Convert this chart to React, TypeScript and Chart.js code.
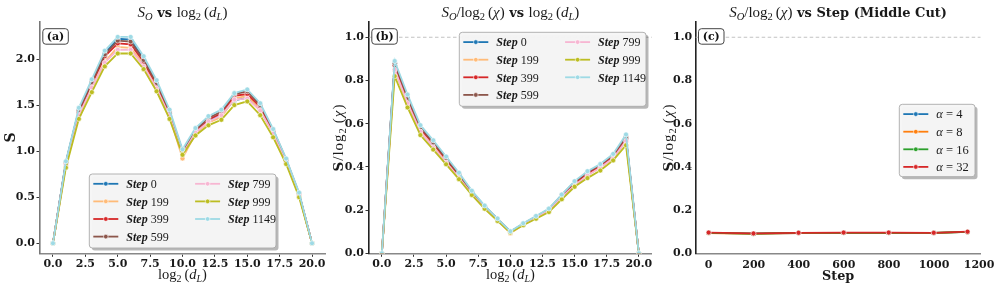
import React, { useEffect, useRef } from "react";
import { Chart, registerables } from "chart.js";
Chart.register(...registerables);

// ---------- DATA ----------
const dL = [0, 1, 2, 3, 4, 5, 6, 7, 8, 9, 10, 11, 12, 13, 14, 15, 16, 17, 18, 19, 20];
const stepLabels = ["0", "199", "399", "599", "799", "999", "1149"];
const stepColors = ["#1f77b4", "#ffbb78", "#d62728", "#8c564b", "#f7b6d2", "#bcbd22", "#9edae5"];

// Panel (a): S_O vs log2(d_L)
const entropyStep0 = [0, 0.88, 1.45, 1.76, 2.06, 2.22, 2.21, 2.0, 1.74, 1.42, 1.0, 1.2, 1.33, 1.4, 1.55, 1.58, 1.45, 1.2, 0.89, 0.53, 0];
const entropyStep199 = [0, 0.85, 1.39, 1.69, 1.97, 2.13, 2.12, 1.94, 1.69, 1.38, 0.92, 1.19, 1.31, 1.37, 1.57, 1.6, 1.45, 1.19, 0.88, 0.52, 0];
const entropyStep399 = [0, 0.87, 1.42, 1.73, 2.03, 2.17, 2.16, 1.97, 1.72, 1.41, 0.99, 1.21, 1.34, 1.41, 1.6, 1.62, 1.48, 1.21, 0.9, 0.53, 0];
const entropyStep599 = [0, 0.88, 1.44, 1.75, 2.05, 2.2, 2.19, 1.99, 1.74, 1.43, 1.0, 1.23, 1.36, 1.43, 1.62, 1.65, 1.5, 1.23, 0.91, 0.54, 0];
const entropyStep799 = [0, 0.85, 1.39, 1.69, 1.96, 2.1, 2.1, 1.92, 1.68, 1.38, 0.97, 1.2, 1.32, 1.39, 1.56, 1.57, 1.44, 1.19, 0.88, 0.52, 0];
const entropyStep999 = [0, 0.82, 1.35, 1.64, 1.92, 2.06, 2.06, 1.89, 1.65, 1.35, 0.96, 1.17, 1.28, 1.34, 1.5, 1.54, 1.39, 1.15, 0.86, 0.5, 0];
const entropyStep1149 = [0, 0.89, 1.47, 1.78, 2.09, 2.24, 2.24, 2.03, 1.77, 1.45, 1.02, 1.25, 1.38, 1.45, 1.63, 1.67, 1.52, 1.24, 0.92, 0.55, 0];

// Panel (b): S_O / log2(chi) vs log2(d_L)
const ratioStep0 = [0, 0.88, 0.725, 0.587, 0.515, 0.444, 0.368, 0.286, 0.218, 0.158, 0.1, 0.133, 0.166, 0.2, 0.258, 0.316, 0.363, 0.4, 0.445, 0.53, 0];
const ratioStep199 = [0, 0.85, 0.695, 0.563, 0.493, 0.426, 0.353, 0.277, 0.211, 0.153, 0.092, 0.132, 0.164, 0.196, 0.262, 0.32, 0.363, 0.397, 0.44, 0.52, 0];
const ratioStep399 = [0, 0.87, 0.71, 0.577, 0.508, 0.434, 0.36, 0.281, 0.215, 0.157, 0.099, 0.134, 0.168, 0.201, 0.267, 0.324, 0.37, 0.403, 0.45, 0.53, 0];
const ratioStep599 = [0, 0.88, 0.72, 0.583, 0.513, 0.44, 0.365, 0.284, 0.218, 0.159, 0.1, 0.137, 0.17, 0.204, 0.27, 0.33, 0.375, 0.41, 0.455, 0.54, 0];
const ratioStep799 = [0, 0.85, 0.695, 0.563, 0.49, 0.42, 0.35, 0.274, 0.21, 0.153, 0.097, 0.133, 0.165, 0.199, 0.26, 0.314, 0.36, 0.397, 0.44, 0.52, 0];
const ratioStep999 = [0, 0.82, 0.675, 0.547, 0.48, 0.412, 0.343, 0.27, 0.206, 0.15, 0.096, 0.13, 0.16, 0.191, 0.25, 0.308, 0.348, 0.383, 0.43, 0.5, 0];
const ratioStep1149 = [0, 0.89, 0.735, 0.593, 0.523, 0.448, 0.373, 0.29, 0.221, 0.161, 0.102, 0.139, 0.173, 0.207, 0.272, 0.334, 0.38, 0.413, 0.46, 0.55, 0];

// Panel (c): middle cut vs step
const stepsC = [0, 199, 399, 599, 799, 999, 1149];
const alphaLabels = ["4", "8", "16", "32"];
const alphaColors = ["#1f77b4", "#ff7f0e", "#2ca02c", "#d62728"];
const middleAlpha4 = [0.095, 0.091, 0.094, 0.095, 0.095, 0.094, 0.099];
const middleAlpha8 = [0.094, 0.09, 0.094, 0.095, 0.095, 0.094, 0.099];
const middleAlpha16 = [0.095, 0.091, 0.095, 0.095, 0.095, 0.095, 0.099];
const middleAlpha32 = [0.096, 0.092, 0.095, 0.096, 0.096, 0.095, 0.1];

// Tick labels
const xTicksAB = [0, 2.5, 5, 7.5, 10, 12.5, 15, 17.5, 20];
const yTicksA = [0, 0.5, 1, 1.5, 2];
const yTicksBC = [0, 0.2, 0.4, 0.6, 0.8, 1.0];
const xTicksC = [0, 200, 400, 600, 800, 1000, 1200];

const entropySeries = [entropyStep0, entropyStep199, entropyStep399, entropyStep599, entropyStep799, entropyStep999, entropyStep1149];
const ratioSeries = [ratioStep0, ratioStep199, ratioStep399, ratioStep599, ratioStep799, ratioStep999, ratioStep1149];
const middleSeries = [middleAlpha4, middleAlpha8, middleAlpha16, middleAlpha32];

// ---------- TEXT HELPERS ----------
type Seg = { t: string; f: string; dy?: number };
const MI = (s: number) => `italic ${s}px "Liberation Serif"`;
const MR = (s: number) => `${s}px "Liberation Serif"`;
const BD = (s: number) => `bold ${s}px "DejaVu Serif"`;
const BI = (s: number) => `italic bold ${s}px "Liberation Serif"`;

function segWidth(ctx: CanvasRenderingContext2D, segs: Seg[]) {
  let w = 0;
  for (const s of segs) {
    ctx.font = s.f;
    w += ctx.measureText(s.t).width;
  }
  return w;
}
function drawRich(ctx: CanvasRenderingContext2D, segs: Seg[], x: number, y: number, align: "center" | "left", rot = 0, spacing = 0) {
  ctx.save();
  ctx.translate(x, y);
  if (rot) ctx.rotate(rot);
  ctx.textBaseline = "alphabetic";
  ctx.textAlign = "left";
  ctx.fillStyle = "#1a1a1a";
  (ctx as any).letterSpacing = spacing + "px";
  const w = segWidth(ctx, segs);
  let cx = align === "center" ? -w / 2 : 0;
  for (const s of segs) {
    ctx.font = s.f;
    ctx.fillText(s.t, cx, s.dy || 0);
    cx += ctx.measureText(s.t).width;
  }
  ctx.restore();
}

const SO: Seg[] = [{ t: "S", f: MI(15) }, { t: "O", f: MI(10.5), dy: 3 }];
const log2: Seg[] = [{ t: "log", f: MR(15) }, { t: "2", f: MR(10.5), dy: 3 }];
const log2dL: Seg[] = [...log2, { t: "\u2009(", f: MR(15) }, { t: "d", f: MI(15) }, { t: "L", f: MI(10.5), dy: 3 }, { t: ")", f: MR(15) }];
const log2chi: Seg[] = [{ t: "/", f: MR(15) }, ...log2, { t: "\u2009(", f: MR(15) }, { t: "\u03c7", f: MI(15) }, { t: ")", f: MR(15) }];

const titleA: Seg[] = [...SO, { t: " vs ", f: BD(13) }, ...log2dL];
const titleB: Seg[] = [...SO, ...log2chi, { t: " vs ", f: BD(13) }, ...log2dL];
const titleC: Seg[] = [...SO, ...log2chi, { t: " vs Step (Middle Cut)", f: BD(13) }];

const ylabA: Seg[] = [{ t: "S", f: BD(14) }];
const ylabBC: Seg[] = [
  { t: "S", f: BD(13.5) },
  { t: "/", f: MR(15) },
  { t: "log", f: MR(15) },
  { t: "2", f: MR(10.5), dy: 3 },
  { t: "\u2009(", f: MR(15) },
  { t: "\u03c7", f: MI(15) },
  { t: ")", f: MR(15) },
];
const xlabAB: Seg[] = [
  { t: "log", f: MR(14.5) },
  { t: "2", f: MR(10), dy: 3 },
  { t: "\u2009(", f: MR(14.5) },
  { t: "d", f: MI(14.5) },
  { t: "L", f: MI(10), dy: 3 },
  { t: ")", f: MR(14.5) },
];
const xlabC: Seg[] = [{ t: "Step", f: BD(12.8) }];

// ---------- PANEL CONFIG ----------
const TOP = 21.7;
const XAXIS_H = 288 - 253.3;

interface LegendItem { color: string; label: Seg[] }
interface PanelCfg {
  left: number; width: number; yAxisW: number; rightPad: number;
  xMin: number; xMax: number; xTicks: number[]; xFmt: (v: number) => string;
  yMin: number; yMax: number; yTicks: number[];
  xs: number[]; series: number[][]; colors: string[];
  title: Seg[]; xLabel: Seg[]; xLabelY: number; yLabel: Seg[]; yLabelX: number; yLabelSpacing: number;
  tag: string;
  legend: { x: number; y: number; w: number; h: number; rows: number; items: LegendItem[] };
  refLine: boolean; leftSpine: string; tickLen: number; yPad: number; xPad: number;
}

const stepItems: LegendItem[] = stepLabels.map((s, i) => ({
  color: stepColors[i],
  label: [{ t: "Step", f: BI(12) }, { t: " " + s, f: MR(12) }],
}));
const alphaItems: LegendItem[] = alphaLabels.map((a, i) => ({
  color: alphaColors[i],
  label: [{ t: "\u03b1", f: MI(12.5) }, { t: " = ", f: MR(12.5) }, { t: a, f: MR(12.5) }],
}));

const panels: PanelCfg[] = [
  {
    left: 0, width: 330, yAxisW: 40, rightPad: 5,
    xMin: -1, xMax: 21, xTicks: xTicksAB, xFmt: (v) => v.toFixed(1),
    yMin: -0.109, yMax: 2.405, yTicks: yTicksA,
    xs: dL, series: entropySeries, colors: stepColors,
    title: titleA, xLabel: xlabAB, xLabelY: 279, yLabel: ylabA, yLabelX: 15, yLabelSpacing: 0,
    tag: "(a)",
    legend: { x: 89.3, y: 174, w: 186.7, h: 74, rows: 4, items: stepItems },
    refLine: false, leftSpine: "#777", tickLen: 3.5, yPad: 1.5, xPad: 1,
  },
  {
    left: 330, width: 330, yAxisW: 39, rightPad: 8.3,
    xMin: -1, xMax: 21, xTicks: xTicksAB, xFmt: (v) => v.toFixed(1),
    yMin: 0, yMax: 1.072, yTicks: yTicksBC,
    xs: dL, series: ratioSeries, colors: stepColors,
    title: titleB, xLabel: xlabAB, xLabelY: 279, yLabel: ylabBC, yLabelX: 12.5, yLabelSpacing: 1,
    tag: "(b)",
    legend: { x: 129.3, y: 32.3, w: 186.7, h: 74, rows: 4, items: stepItems },
    refLine: true, leftSpine: "#222", tickLen: 3.5, yPad: 1.5, xPad: 1,
  },
  {
    left: 660, width: 337, yAxisW: 35.7, rightPad: 16.5,
    xMin: -57.45, xMax: 1206.45, xTicks: xTicksC, xFmt: (v) => String(v),
    yMin: 0, yMax: 1.072, yTicks: yTicksBC,
    xs: stepsC, series: middleSeries, colors: alphaColors,
    title: titleC, xLabel: xlabC, xLabelY: 280, yLabel: ylabBC, yLabelX: 12.5, yLabelSpacing: 1,
    tag: "(c)",
    legend: { x: 239.3, y: 104.3, w: 75.7, h: 72.4, rows: 4, items: alphaItems },
    refLine: true, leftSpine: "#222", tickLen: 0, yPad: 3.5, xPad: 5,
  },
];

function drawLegend(ctx: CanvasRenderingContext2D, lg: PanelCfg["legend"]) {
  ctx.save();
  ctx.fillStyle = "rgba(0,0,0,0.28)";
  ctx.beginPath();
  ctx.roundRect(lg.x + 2.5, lg.y + 2.5, lg.w, lg.h, 3);
  ctx.fill();
  ctx.fillStyle = "rgba(246,246,246,0.97)";
  ctx.strokeStyle = "#aaaaaa";
  ctx.lineWidth = 0.9;
  ctx.beginPath();
  ctx.roundRect(lg.x, lg.y, lg.w, lg.h, 3);
  ctx.fill();
  ctx.stroke();
  lg.items.forEach((it, i) => {
    const col = Math.floor(i / lg.rows);
    const row = i % lg.rows;
    const bx = lg.x + 4 + col * 101.8;
    const y = lg.y + 9.8 + row * 17.6;
    ctx.strokeStyle = it.color;
    ctx.lineWidth = 1.8;
    ctx.beginPath();
    ctx.moveTo(bx, y);
    ctx.lineTo(bx + 25, y);
    ctx.stroke();
    ctx.fillStyle = it.color;
    ctx.strokeStyle = "#fff";
    ctx.lineWidth = 0.6;
    ctx.beginPath();
    ctx.arc(bx + 12.5, y, 2.3, 0, Math.PI * 2);
    ctx.fill();
    ctx.stroke();
    drawRich(ctx, it.label, bx + 33, y + 4.2, "left");
  });
  ctx.restore();
}

function makeChart(canvas: HTMLCanvasElement, p: PanelCfg) {
  const n = p.series.length;
  const datasets = p.series.map((vals, i) => ({
    label: String(i),
    data: vals.map((v, k) => ({ x: p.xs[k], y: v })),
    borderColor: p.colors[i],
    backgroundColor: p.colors[i],
    pointBackgroundColor: p.colors[i],
    pointBorderColor: "#ffffff",
    pointBorderWidth: 0.6,
    pointRadius: 2.5,
    pointHoverRadius: 2.5,
    borderWidth: 1.8,
    tension: 0,
    order: n - i,
  }));
  const overlay = {
    id: "overlay" + p.tag,
    beforeDatasetsDraw(chart: any) {
      if (!p.refLine) return;
      const ctx = chart.ctx as CanvasRenderingContext2D;
      const a = chart.chartArea;
      const y = chart.scales.y.getPixelForValue(1.0);
      ctx.save();
      ctx.strokeStyle = "#bbbbbb";
      ctx.lineWidth = 0.9;
      ctx.setLineDash([3.5, 2.5]);
      ctx.beginPath();
      ctx.moveTo(a.left, y);
      ctx.lineTo(a.right, y);
      ctx.stroke();
      ctx.restore();
    },
    afterDraw(chart: any) {
      const ctx = chart.ctx as CanvasRenderingContext2D;
      const a = chart.chartArea;
      drawRich(ctx, p.title, (a.left + a.right) / 2, 17, "center");
      drawRich(ctx, p.xLabel, (a.left + a.right) / 2, p.xLabelY, "center");
      drawRich(ctx, p.yLabel, p.yLabelX, (a.top + a.bottom) / 2, "center", -Math.PI / 2, p.yLabelSpacing);
      ctx.save();
      ctx.fillStyle = "#ffffff";
      ctx.strokeStyle = "#444444";
      ctx.lineWidth = 1;
      ctx.beginPath();
      ctx.roundRect(a.left + 2.8, a.top + 7, 25.5, 15.5, 3);
      ctx.fill();
      ctx.stroke();
      ctx.fillStyle = "#111";
      ctx.font = BD(11);
      ctx.textAlign = "center";
      ctx.textBaseline = "middle";
      ctx.fillText(p.tag, a.left + 2.8 + 12.75, a.top + 7 + 8.2);
      ctx.restore();
      drawLegend(ctx, p.legend);
    },
  };
  const tickFont = { family: "DejaVu Serif", size: 11, weight: "bold" as const };
  return new Chart(canvas, {
    type: "line",
    data: { datasets },
    plugins: [overlay],
    options: {
      responsive: false,
      animation: false,
      devicePixelRatio: 1,
      events: [],
      layout: { padding: { left: 0, right: p.rightPad, top: TOP, bottom: 0 } },
      plugins: { legend: { display: false }, title: { display: false }, tooltip: { enabled: false } },
      scales: {
        x: {
          type: "linear",
          min: p.xMin,
          max: p.xMax,
          afterBuildTicks: (s: any) => { s.ticks = p.xTicks.map((v) => ({ value: v })); },
          afterFit: (s: any) => { s.height = XAXIS_H; s.paddingLeft = 0; s.paddingRight = 0; },
          ticks: { font: tickFont, color: "#1a1a1a", padding: p.xPad, maxRotation: 0, autoSkip: false, callback: (v: any) => p.xFmt(Number(v)) },
          grid: { display: true, drawOnChartArea: false, drawTicks: p.tickLen > 0, tickLength: p.tickLen, color: "#333", lineWidth: 1 },
          border: { display: true, color: "#888888", width: 1.6 },
        },
        y: {
          type: "linear",
          min: p.yMin,
          max: p.yMax,
          afterBuildTicks: (s: any) => { s.ticks = p.yTicks.map((v) => ({ value: v })); },
          afterFit: (s: any) => { s.width = p.yAxisW; s.paddingTop = 0; s.paddingBottom = 0; },
          ticks: { font: tickFont, color: "#1a1a1a", padding: p.yPad, autoSkip: false, callback: (v: any) => Number(v).toFixed(1) },
          grid: { display: true, drawOnChartArea: false, drawTicks: p.tickLen > 0, tickLength: p.tickLen, color: "#333", lineWidth: 1 },
          border: { display: true, color: p.leftSpine, width: 1.6 },
        },
      },
    } as any,
  });
}

function Panel({ p }: { p: PanelCfg }) {
  const ref = useRef<HTMLCanvasElement>(null);
  useEffect(() => {
    if (!ref.current) return;
    const c = makeChart(ref.current, p);
    return () => c.destroy();
  }, [p]);
  return (
    <canvas
      ref={ref}
      width={p.width}
      height={288}
      style={{ position: "absolute", left: p.left, top: 0, width: p.width, height: 288 }}
    />
  );
}

export default function App() {
  return (
    <div style={{ position: "absolute", left: 0, top: 0, width: 997, height: 288, background: "#fff" }}>
      {panels.map((p) => (
        <Panel key={p.tag} p={p} />
      ))}
    </div>
  );
}
